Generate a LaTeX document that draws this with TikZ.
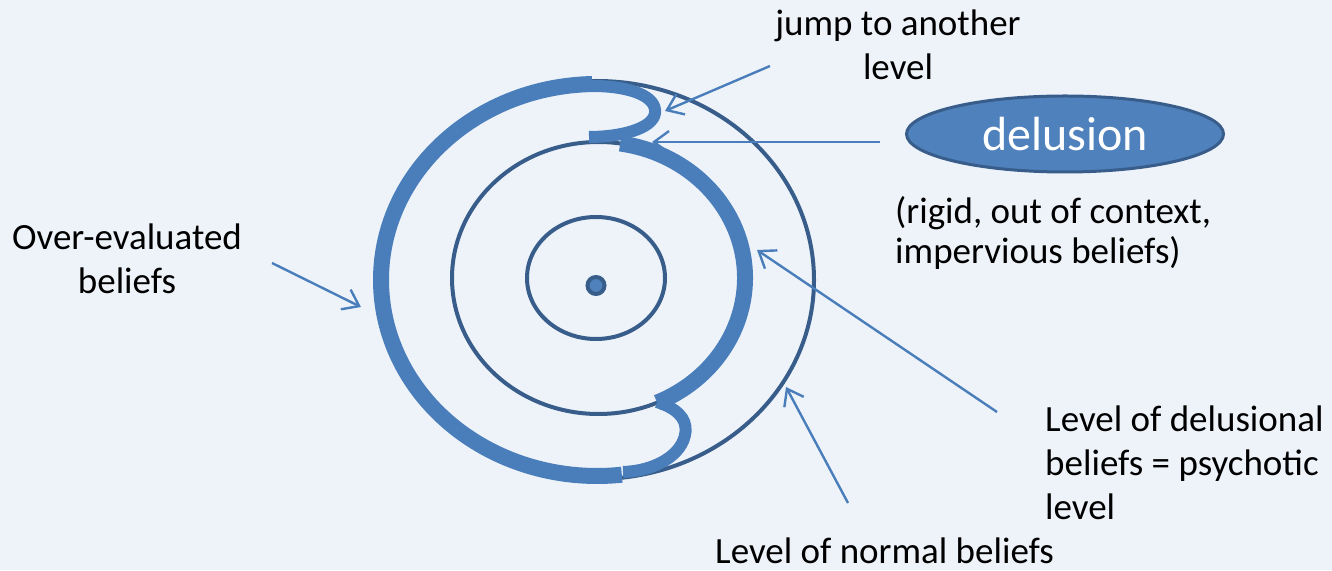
\documentclass[tikz,border=0pt]{standalone}
\usepackage{fontspec}
\setmainfont{Carlito}
\usepackage{tikz}
\usetikzlibrary{arrows.meta,positioning,shapes.geometric,calc}
\definecolor{bgblue}{HTML}{EEF3FA}
\definecolor{bandblue}{HTML}{4A7EBB}
\definecolor{ringblue}{HTML}{385D8A}
\definecolor{fillblue}{HTML}{4F81BD}
\tikzset{
  lv/ring/.style={draw=ringblue, line width=4pt},
  lv/band/.style={draw=bandblue, line width=16pt},
  lv/hook/.style={draw=bandblue, line width=12pt},
  lv/arrow/.style={draw=bandblue, line width=2.4pt, -{Straight Barb[length=15pt,width=22pt]}},
  lv/label/.style={inner sep=0pt, font=\fontsize{37}{44}\selectfont, text=black},
  lv/delusion/.style={ellipse, draw=ringblue, line width=3pt, fill=fillblue, minimum width=317pt, minimum height=76pt, inner sep=0pt, text=white, font=\fontsize{48}{56}\selectfont},
  lv/dot/.style={circle, draw=ringblue, fill=fillblue, line width=4pt, minimum size=17pt, inner sep=0pt}
}

\begin{document}
\begin{tikzpicture}[x=1pt,y=1pt]
  \fill[bgblue] (0,0) rectangle (1332,570);
  \useasboundingbox (0,0) rectangle (1332,570);

  % levels
  \draw[lv/ring] (597,290) ellipse [x radius=217, y radius=199];
  \draw[lv/ring] (598.5,292) ellipse [x radius=146.5, y radius=136];
  \draw[lv/ring] (596,292) ellipse [x radius=69, y radius=61];
  \node[lv/dot] (core) at (596,284.5) {};

  % belief path
  \draw[lv/band] ($(597,290)+(91.3:216 and 196)$) arc[start angle=91.3, end angle=276.6, x radius=216, y radius=196];
  \draw[lv/hook] (592,484) .. controls (632,484) and (657,473) .. (655,457)
    .. controls (653,441) and (620,433) .. (589,433);
  \draw[lv/band] ($(598.5,292)+(81.5:146.5 and 136)$) arc[start angle=81.5, end angle=-66.4, x radius=146.5, y radius=136];
  \draw[lv/hook] (657,168) .. controls (676,162) and (687,152) .. (685.5,138)
    .. controls (683,115) and (655,99) .. (623,98);

  % labels
  \node[lv/label, align=center, anchor=base] (jump) at (898,490) {jump to another\\level};
  \node[lv/delusion] (delusion) at (1065,436) {delusion};
  \node[lv/label, align=left, anchor=base west, font=\fontsize{37}{40}\selectfont] (rigid) at (895,306) {(rigid, out of context,\\impervious beliefs)};
  \node[lv/label, align=center, anchor=base] (overval) at (127,276) {Over-evaluated\\beliefs};
  \node[lv/label, align=left, anchor=base west] (psychotic) at (1045,51) {Level of delusional\\beliefs = psychotic\\level};
  \node[lv/label, anchor=base west] (normal) at (715,7) {Level of normal beliefs};

  % arrows
  \coordinate (jumptail) at (770,504);
  \coordinate (jumphead) at (665,459);
  \coordinate (deltail) at (880,428);
  \coordinate (delhead) at (652,428);
  \coordinate (overtail) at (272,307);
  \coordinate (overhead) at (361,263);
  \coordinate (psytail) at (997,158);
  \coordinate (psyhead) at (757,320);
  \coordinate (normtail) at (848,67);
  \coordinate (normhead) at (786,183);
  \draw[lv/arrow] (jumptail) -- (jumphead);
  \draw[lv/arrow] (deltail) -- (delhead);
  \draw[lv/arrow] (overtail) -- (overhead);
  \draw[lv/arrow] (psytail) -- (psyhead);
  \draw[lv/arrow] (normtail) -- (normhead);
\end{tikzpicture}
\end{document}
